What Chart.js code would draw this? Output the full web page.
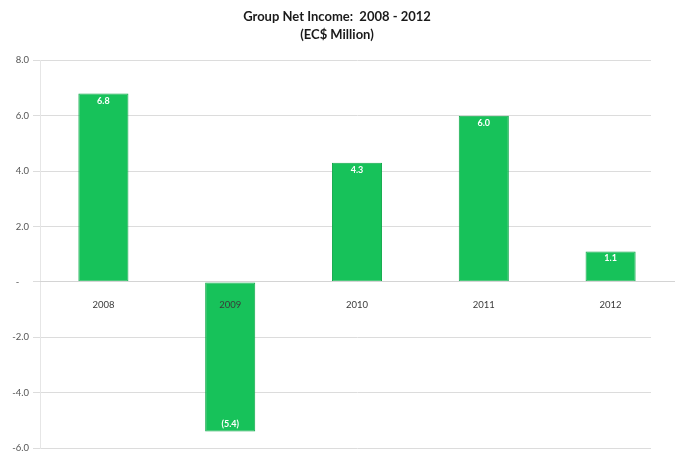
<!DOCTYPE html>
<html>
<head>
<meta charset="utf-8">
<script src="https://cdn.jsdelivr.net/npm/chart.js@4.4.1/dist/chart.umd.min.js"></script>
<style>
  html, body { margin: 0; padding: 0; background: #fff; }
  #wrap { width: 676px; height: 454px; }
</style>
</head>
<body>
<div id="wrap"><canvas id="chartLucro"></canvas></div>
<script>
const anos = ['2008', '2009', '2010', '2011', '2012'];
const lucroLiquido = [6.8, -5.4, 4.3, 6.0, 1.1];
const titulo = ['Group Net Income:  2008 - 2012', '(EC$ Million)'];
const eixoY = { min: -6, max: 8, passo: 2 };

const VERDE = '#17c25a';
const FONTE = "Lato, 'Liberation Sans', sans-serif";

// rotulo da barra: negativos entre parenteses
const formatarValor = (v) => {
    const s = Math.abs(v).toFixed(1);
    return v < 0 ? `(${s})` : s;
};

// eixo: zero vira traco
const formatarEixo = (v) => v === 0 ? '-    ' : v.toFixed(1);

// rotulos brancos dentro da barra, na ponta
const rotulosBarras = {
    id: 'rotulosBarras',
    afterDatasetsDraw(chart) {
        const ctx = chart.ctx;
        const meta = chart.getDatasetMeta(0);
        ctx.save();
        ctx.fillStyle = '#ffffff';
        ctx.font = `bold 9px ${FONTE}`;
        ctx.textAlign = 'center';
        ctx.textBaseline = 'middle';
        meta.data.forEach((bar, i) => {
            const v = lucroLiquido[i];
            const y = v >= 0 ? bar.y + 7 : bar.y - 7;
            ctx.fillText(formatarValor(v), bar.x, y);
        });
        ctx.restore();
    }
};

// corta as linhas de grade antes da borda direita
const aparaGrade = {
    id: 'aparaGrade',
    beforeDatasetsDraw(chart) {
        const a = chart.chartArea;
        const ctx = chart.ctx;
        ctx.save();
        ctx.fillStyle = '#ffffff';
        ctx.fillRect(a.right - 23, a.top - 2, 30, a.bottom - a.top + 4);
        ctx.restore();
    }
};

const ctx = document.getElementById('chartLucro').getContext('2d');

new Chart(ctx, {
    type: 'bar',
    data: {
        labels: anos,
        datasets: [{
            label: 'Net Income',
            data: lucroLiquido,
            backgroundColor: VERDE,
            borderColor: '#10a84a',
            borderWidth: 1,
            borderSkipped: false,
            barPercentage: 0.395,
            categoryPercentage: 1
        }]
    },
    options: {
        responsive: true,
        maintainAspectRatio: false,
        animation: false,
        layout: { padding: { top: 0, bottom: 6, right: 2, left: 0 } },
        plugins: {
            legend: { display: false },
            tooltip: { enabled: false },
            title: {
                display: true,
                text: titulo,
                color: '#1a1a1a',
                font: { family: FONTE, size: 13, weight: 'bold', lineHeight: 1.4 },
                padding: { top: 8, bottom: 16 }
            }
        },
        scales: {
            x: {
                position: { y: 0 },
                grid: { display: false },
                border: { display: true, color: '#d4d4d4', width: 1, z: 1 },
                ticks: {
                    z: 1,
                    color: '#3a3a3a',
                    font: { family: FONTE, size: 9.5 },
                    padding: 9
                }
            },
            y: {
                min: eixoY.min,
                max: eixoY.max,
                afterFit: (scale) => {
                    scale.width = 40;
                    scale.paddingBottom = 0;
                },
                ticks: {
                    stepSize: eixoY.passo,
                    color: '#555555',
                    font: { family: FONTE, size: 9.5 },
                    padding: 4,
                    callback: (v) => formatarEixo(v)
                },
                grid: {
                    color: '#dcdcdc',
                    tickLength: 7,
                    tickColor: '#dcdcdc'
                },
                border: { display: true, color: '#e6e6e6' }
            }
        }
    },
    plugins: [aparaGrade, rotulosBarras]
});
</script>
</body>
</html>
